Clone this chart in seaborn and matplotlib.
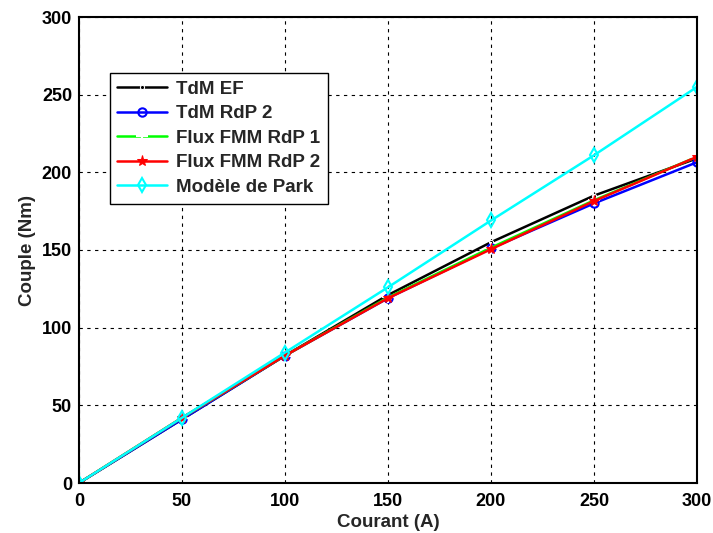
import matplotlib
matplotlib.use("Agg")
import matplotlib.pyplot as plt
import seaborn as sns
import pandas as pd

courant = [0, 50, 100, 150, 200, 250, 300]
tdm_ef = [0, 41, 82, 121, 155, 185, 209]
tdm_rdp2 = [0, 41, 82, 119, 151, 180, 206.5]
flux_rdp1 = [0, 42, 82, 119.5, 151.5, 182, 210]
flux_rdp2 = [0, 42, 82, 119, 150.5, 181.5, 210]
park = [0, 42, 84, 126, 169, 211, 255]

series = [
    ("TdM EF", tdm_ef, dict(color="black", marker=".", markersize=6)),
    ("TdM RdP 2", tdm_rdp2, dict(color="blue", marker="o", markersize=6, markerfacecolor="none", markeredgecolor="blue", markeredgewidth=1.5)),
    ("Flux FMM RdP 1", flux_rdp1, dict(color="#00ff00", marker="+", markersize=8, markeredgewidth=1.5)),
    ("Flux FMM RdP 2", flux_rdp2, dict(color="red", marker="*", markersize=8, markeredgecolor="red")),
    ("Modèle de Park", park, dict(color="cyan", marker="d", markersize=7, markerfacecolor="none", markeredgecolor="cyan", markeredgewidth=1.5)),
]

sns.set_style("white")
plt.rcParams['font.family'] = ['Liberation Sans', 'DejaVu Sans']
plt.rcParams['font.weight'] = 'bold'

fig = plt.figure(figsize=(7.13, 5.33), dpi=100)
ax = fig.add_axes([79/713, 50/533, 618/713, 466/533])

for name, vals, style in series:
    df = pd.DataFrame({"Courant": courant, "Couple": vals})
    sns.lineplot(data=df, x="Courant", y="Couple", ax=ax, label=name,
                 linewidth=1.8, **style)

ax.set_xlim(0, 300)
ax.set_ylim(0, 300)
ax.set_xticks(range(0, 301, 50))
ax.set_yticks(range(0, 301, 50))
ax.grid(True, color="black", linestyle=(0, (3, 4)), linewidth=0.8)
ax.tick_params(direction="in", length=5, width=1, labelsize=13, colors="black", pad=5)
ax.tick_params(axis="x", pad=7)
for lab in ax.get_xticklabels() + ax.get_yticklabels():
    lab.set_fontweight("bold")
for sp in ax.spines.values():
    sp.set_color("black")
    sp.set_linewidth(1.5)
ax.set_xlabel("Courant (A)", fontsize=13.5, fontweight="bold", labelpad=3)
ax.set_ylabel("Couple (Nm)", fontsize=13.5, fontweight="bold", labelpad=4)

leg = ax.legend(loc="upper left", bbox_to_anchor=(0.05, 0.88), borderaxespad=0,
                fontsize=13.5, frameon=True, fancybox=False, edgecolor="black",
                framealpha=1, borderpad=0.4, labelspacing=0.4,
                handlelength=2.67, handletextpad=0.48)
leg.get_frame().set_linewidth(1.0)
for t in leg.get_texts():
    t.set_fontweight("bold")

fig.savefig("out.png", dpi=100, facecolor="white")
